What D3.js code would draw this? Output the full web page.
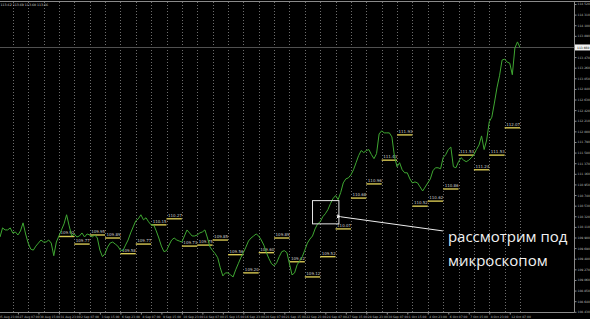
<!DOCTYPE html>
<html>
<head>
<meta charset="utf-8">
<script src="https://cdn.jsdelivr.net/npm/d3@7"></script>
<style>
  html, body { margin: 0; padding: 0; background: #000; overflow: hidden; }
  svg { display: block; }
</style>
</head>
<body>
<svg id="chart"></svg>
<script>
// H4 closes, one per bar
const closes = [
  109.91, 110.09, 110.05, 110.05, 110.09, 109.99, 110.01, 109.95, 110.03, 110.19,
  109.97, 109.79, 109.67, 109.65, 109.73, 109.79, 109.85, 109.81, 109.81, 109.85,
  109.79, 109.54, 109.81, 109.93, 110.05, 110.17, 110.35, 110.13, 109.93, 109.97,
  109.91, 109.93, 109.99, 109.91, 109.97, 109.95, 109.91, 109.95, 109.89, 109.65,
  109.52, 109.58, 109.71, 109.79, 109.81, 109.77, 109.73, 109.65, 109.64, 109.75,
  109.85, 109.99, 110.11, 110.23, 110.27, 110.35, 110.25, 110.29, 110.21, 110.15,
  110.15, 110.03, 109.89, 109.73, 109.62, 109.64, 109.75, 109.85, 109.89, 109.85,
  109.83, 109.81, 109.93, 110.05, 109.99, 109.93, 109.93, 109.95, 109.99, 110.01,
  110.05, 109.89, 109.71, 109.64, 109.58, 109.50, 109.30, 109.14, 109.20, 109.20,
  109.16, 109.12, 109.26, 109.38, 109.50, 109.60, 109.71, 109.83, 109.89, 109.93,
  109.97, 109.93, 109.85, 109.75, 109.60, 109.48, 109.38, 109.34, 109.40, 109.52,
  109.62, 109.64, 109.60, 109.38, 109.16, 109.20, 109.36, 109.44, 109.52, 109.65,
  109.79, 109.87, 109.93, 110.07, 110.17, 110.21, 110.31, 110.37, 110.45, 110.57,
  110.67, 110.73, 110.65, 110.79, 110.98, 111.06, 111.08, 111.14, 111.24, 111.38,
  111.52, 111.62, 111.58, 111.62, 111.64, 111.54, 111.46, 111.56, 111.95, 112.01,
  111.97, 111.97, 111.97, 111.89, 111.50, 111.30, 111.38, 111.24, 111.18, 111.18,
  111.06, 110.98, 111.00, 110.98, 110.90, 110.82, 110.90, 110.98, 111.06, 111.22,
  111.28, 111.28, 111.26, 111.48, 111.54, 111.64, 111.69, 111.30, 111.28, 111.40,
  111.48, 111.43, 111.40, 111.43, 111.48, 111.54, 111.64, 111.73, 111.91, 111.64,
  111.83, 112.19, 112.28, 112.56, 112.86, 113.10, 113.41, 113.43, 113.37, 113.35,
  113.12, 113.65, 113.77, 113.66
];

// daily levels (yellow), one per day starting at day 3
const firstLevelDay = 3;
const levels = [
  109.92, 109.77, 109.95, 109.89, 109.58, 109.77, 110.15, 110.27, 109.73, 109.75,
  109.85, 109.56, 109.20, 109.60, 109.89, 109.42, 109.12, 109.52, 110.07, 110.68,
  110.96, 111.43, 111.93, 110.52, 110.62, 110.86, 111.53, 111.24, 111.53, 112.07
];

const barsPerDay = 6;
const firstGridBar = 5;
const gridDays = 34;

const dateLabels = [
  '25 Aug 23:00', '27 Aug 07:00', '30 Aug 15:00', '31 Aug 23:00', '2 Sep 07:00',
  '3 Sep 15:00', '6 Sep 23:00', '8 Sep 07:00', '9 Sep 15:00', '10 Sep 23:00',
  '14 Sep 07:00', '15 Sep 15:00', '16 Sep 23:00', '20 Sep 07:00', '21 Sep 15:00',
  '22 Sep 23:00', '24 Sep 07:00', '27 Sep 15:00', '28 Sep 23:00', '30 Sep 07:00',
  '1 Oct 15:00', '4 Oct 23:00', '6 Oct 07:00', '7 Oct 15:00', '8 Oct 23:00',
  '12 Oct 07:00'
];
const dateLabelFirstBar = -1;
const dateLabelStep = 8;

const priceTicks = [
  108.43, 108.64, 108.85, 109.06, 109.27, 109.48, 109.69, 109.90, 110.11, 110.32,
  110.53, 110.74, 110.95, 111.16, 111.37, 111.58, 111.79, 112.00, 112.21, 112.42,
  112.63, 112.84, 113.05, 113.26, 113.47, 113.68, 113.89, 114.10, 114.31, 114.52
];

const ohlc = ['113.62', '113.69', '113.60', '113.66'];
const noteLines = ['рассмотрим под', 'микроскопом'];
// zoom box (bars / prices) and arrow tail
const boxBars = [122, 132.3], boxPrices = [110.17, 110.63];
const arrowTip = [133, 110.31], arrowTail = [172.9, 110.03];

const W = 590, H = 319;
const plotRight = 574, plotBottom = 312;

const svg = d3.select('#chart').attr('width', W).attr('height', H)
  .style('background', '#000');

const x = d3.scaleLinear().domain([0, closes.length - 1]).range([0, 520]);
const y = d3.scaleLinear().domain([108.43, 114.52]).range([311.8, 4.0]);

svg.append('defs').append('clipPath').attr('id', 'plot')
  .append('rect').attr('x', 0).attr('y', 1).attr('width', plotRight).attr('height', plotBottom - 1);

// vertical dotted grid
const gridBars = d3.range(gridDays).map(k => firstGridBar + k * barsPerDay);
svg.append('g').selectAll('line').data(gridBars).join('line')
  .attr('x1', d => Math.round(x(d)) + 0.5).attr('x2', d => Math.round(x(d)) + 0.5)
  .attr('y1', 2).attr('y2', plotBottom)
  .attr('stroke', '#6e6e6e').attr('stroke-width', 1)
  .attr('stroke-dasharray', '1,2');

// last price line
const last = closes[closes.length - 1];
svg.append('line')
  .attr('x1', 0).attr('x2', plotRight)
  .attr('y1', Math.round(y(last)) + 0.5).attr('y2', Math.round(y(last)) + 0.5)
  .attr('stroke', '#505050').attr('stroke-width', 1);

// daily levels
const lv = svg.append('g');
levels.forEach((v, i) => {
  const b0 = firstGridBar + (firstLevelDay + i) * barsPerDay;
  const x0 = x(b0), x1 = x(b0 + barsPerDay);
  lv.append('line')
    .attr('x1', x0).attr('x2', x1).attr('y1', y(v)).attr('y2', y(v))
    .attr('stroke', '#d6c752').attr('stroke-width', 1.4);
  lv.append('text')
    .attr('x', x0 + 1.5).attr('y', y(v) - 2)
    .attr('fill', '#c8c8c8').attr('font-family', 'DejaVu Sans')
    .attr('font-size', 4).text(v.toFixed(2));
});

// price line
const lineGen = d3.line().x((d, i) => x(i)).y(d => y(d));
svg.append('path')
  .attr('clip-path', 'url(#plot)')
  .attr('d', lineGen(closes))
  .attr('fill', 'none')
  .attr('stroke', '#3fa832')
  .attr('stroke-width', 1)
  .attr('stroke-linejoin', 'miter');

// frame
svg.append('line').attr('x1', 0).attr('x2', W).attr('y1', 1.5).attr('y2', 1.5)
  .attr('stroke', '#8a8a8a');

// right price axis
const yAxis = d3.axisRight(y)
  .tickValues(priceTicks.filter(t => Math.abs(y(t) - y(last)) > 5))
  .tickSize(2).tickFormat(d3.format('.3f'));
const ya = svg.append('g').attr('transform', `translate(${plotRight + 0.5},0)`).call(yAxis);
ya.select('.domain').attr('stroke', '#8a8a8a').attr('d', `M0,1.5V${plotBottom + 0.5}`);
ya.selectAll('.tick line').attr('stroke', '#8a8a8a');
ya.selectAll('.tick text').attr('fill', '#bdbdbd').attr('font-size', 3)
  .attr('font-family', 'DejaVu Sans').attr('x', 3);

// current price box
svg.append('rect').attr('x', plotRight + 1).attr('y', y(last) - 3)
  .attr('width', 15).attr('height', 6).attr('fill', '#f2f2f2');
svg.append('text').attr('x', plotRight + 3).attr('y', y(last) + 1.2)
  .attr('fill', '#000').attr('font-size', 3).attr('font-family', 'DejaVu Sans')
  .text(last.toFixed(3));

// bottom time axis
const dateBars = dateLabels.map((d, i) => dateLabelFirstBar + i * dateLabelStep);
const xAxis = d3.axisBottom(x).tickValues(dateBars)
  .tickSize(2).tickFormat((d, i) => dateLabels[i]);
const xa = svg.append('g').attr('transform', `translate(0,${plotBottom + 0.5})`).call(xAxis);
xa.select('.domain').attr('stroke', '#8a8a8a').attr('d', `M0,0H${plotRight + 0.5}`);
xa.selectAll('.tick line').attr('stroke', '#8a8a8a');
xa.selectAll('.tick text').attr('fill', '#bdbdbd').attr('font-size', 3)
  .attr('font-family', 'DejaVu Sans').attr('text-anchor', 'start')
  .attr('x', 1).attr('dy', '0.2em');

// OHLC header
svg.append('text').attr('x', 0.5).attr('y', 5.5)
  .attr('fill', '#d0d0d0').attr('font-size', 3.2).attr('font-family', 'DejaVu Sans')
  .text(ohlc.join(' '));

// annotation
svg.append('rect')
  .attr('x', x(boxBars[0])).attr('y', y(boxPrices[1]))
  .attr('width', x(boxBars[1]) - x(boxBars[0]))
  .attr('height', y(boxPrices[0]) - y(boxPrices[1]))
  .attr('fill', 'none').attr('stroke', '#e6e6e6').attr('stroke-width', 1);

svg.select('defs').append('marker').attr('id', 'head')
  .attr('viewBox', '0 0 10 10').attr('refX', 1).attr('refY', 5)
  .attr('markerWidth', 4).attr('markerHeight', 4).attr('orient', 'auto-start-reverse')
  .append('path').attr('d', 'M10,0L0,5L10,10Z').attr('fill', '#f0f0f0');

svg.append('line')
  .attr('x1', x(arrowTip[0])).attr('y1', y(arrowTip[1]))
  .attr('x2', x(arrowTail[0])).attr('y2', y(arrowTail[1]))
  .attr('stroke', '#eeeeee').attr('stroke-width', 1)
  .attr('marker-start', 'url(#head)');

svg.append('g').selectAll('text').data(noteLines).join('text')
  .attr('x', x(arrowTail[0]) + 5)
  .attr('y', (d, i) => y(arrowTail[1]) + 11 + i * 24)
  .attr('fill', '#f2f2f2').attr('font-size', 15)
  .attr('font-family', 'Open Sans')
  .text(d => d);
</script>
</body>
</html>
